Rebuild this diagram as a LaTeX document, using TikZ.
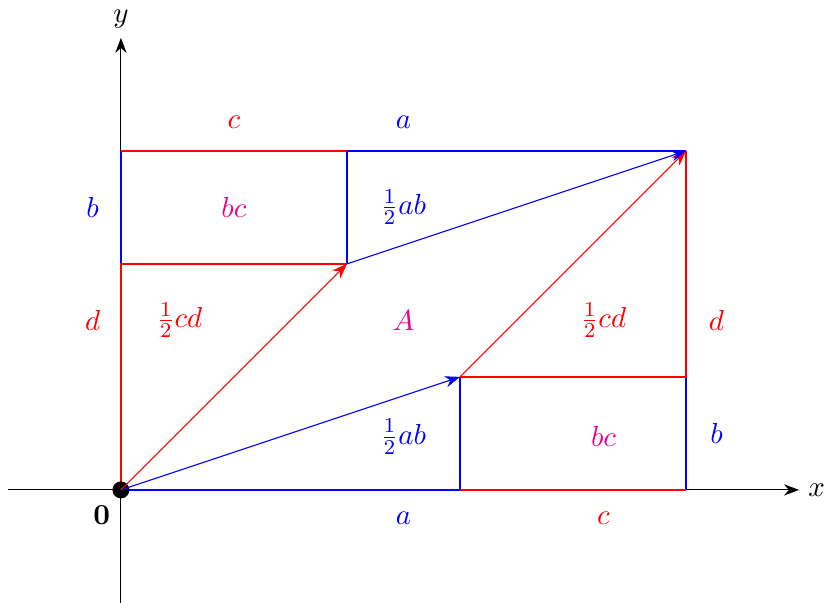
\documentclass[tikz,border=0pt]{standalone}
\usepackage{tikz}
\usepackage{xcolor}
\usetikzlibrary{arrows.meta, positioning}
\definecolor{vecred}{HTML}{FF0000}
\definecolor{vecblue}{HTML}{0000FF}
\definecolor{areamag}{HTML}{EC008C}
\tikzset{
  axis/.style={-{Stealth[length=2mm]}, draw=black},
  redline/.style={draw=vecred, line width=0.5pt},
  blueline/.style={draw=vecblue, line width=0.5pt},
  redvec/.style={-{Stealth[length=2mm]}, draw=vecred},
  bluevec/.style={-{Stealth[length=2mm]}, draw=vecblue},
  redlbl/.style={text=vecred},
  bluelbl/.style={text=vecblue},
  maglbl/.style={text=areamag},
  dot/.style={circle, fill=black, inner sep=0pt, minimum size=6.4pt},
  every node/.style={font=\fontsize{11}{13}\selectfont},
}

\begin{document}
\begin{tikzpicture}[x=1.5cm, y=1.5cm]
  \useasboundingbox (-1.07,-1.0) rectangle (6.23,4.335);

  % axes
  \coordinate (xmin) at (-1,0);
  \coordinate (xmax) at (6,0);
  \coordinate (ymin) at (0,-1);
  \coordinate (ymax) at (0,4);
  \draw[axis] (xmin) -- (xmax) node[right] (xl) {$x$};
  \draw[axis] (ymin) -- (ymax) node[above] (yl) {$y$};

  % corners
  \coordinate (P)  at (3,1);
  \coordinate (Q)  at (2,2);
  \coordinate (S)  at (5,3);
  \coordinate (Ax) at (3,0);
  \coordinate (Bx) at (5,0);
  \coordinate (Br) at (5,1);
  \coordinate (Ly) at (0,2);
  \coordinate (Ty) at (0,3);
  \coordinate (Tq) at (2,3);

  % blue pieces
  \draw[blueline] (0,0) -- (Ax) -- (P)
                  (Bx) -- (Br)
                  (S) -- (Tq) -- (Q)
                  (Ty) -- (Ly);
  % red pieces
  \draw[redline]  (Ax) -- (Bx)
                  (P) -- (Br) -- (S)
                  (Tq) -- (Ty)
                  (0,0) -- (Ly) -- (Q);

  \node (O) [dot] at (0,0) {};

  % vectors
  \draw[bluevec] (O.center) -- (P);
  \draw[redvec]  (P) -- (S);
  \draw[redvec]  (O.center) -- (Q);
  \draw[bluevec] (Q) -- (S);

  % labels
  \node (zero) at (-0.17,-0.22) {$\mathbf{0}$};
  \node (ctop) [redlbl]  at (1,3.25)     {$c$};
  \node (atop) [bluelbl] at (2.5,3.25)   {$a$};
  \node (bl)   [bluelbl] at (-0.25,2.5)  {$b$};
  \node (dl)   [redlbl]  at (-0.25,1.5)  {$d$};
  \node (dr)   [redlbl]  at (5.27,1.5)   {$d$};
  \node (br)   [bluelbl] at (5.27,0.5)   {$b$};
  \node (abot) [bluelbl] at (2.5,-0.25)  {$a$};
  \node (cbot) [redlbl]  at (4.27,-0.25) {$c$};

  \node (bcup)  [maglbl]  at (1,2.5)     {$bc$};
  \node (abup)  [bluelbl] at (2.5,2.5)   {$\frac{1}{2}ab$};
  \node (cdl)   [redlbl]  at (0.52,1.5)  {$\frac{1}{2}cd$};
  \node (area)  [maglbl]  at (2.5,1.5)   {$A$};
  \node (cdr)   [redlbl]  at (4.27,1.5)  {$\frac{1}{2}cd$};
  \node (ablow) [bluelbl] at (2.5,0.47)  {$\frac{1}{2}ab$};
  \node (bclow) [maglbl]  at (4.27,0.47) {$bc$};
\end{tikzpicture}
\end{document}
